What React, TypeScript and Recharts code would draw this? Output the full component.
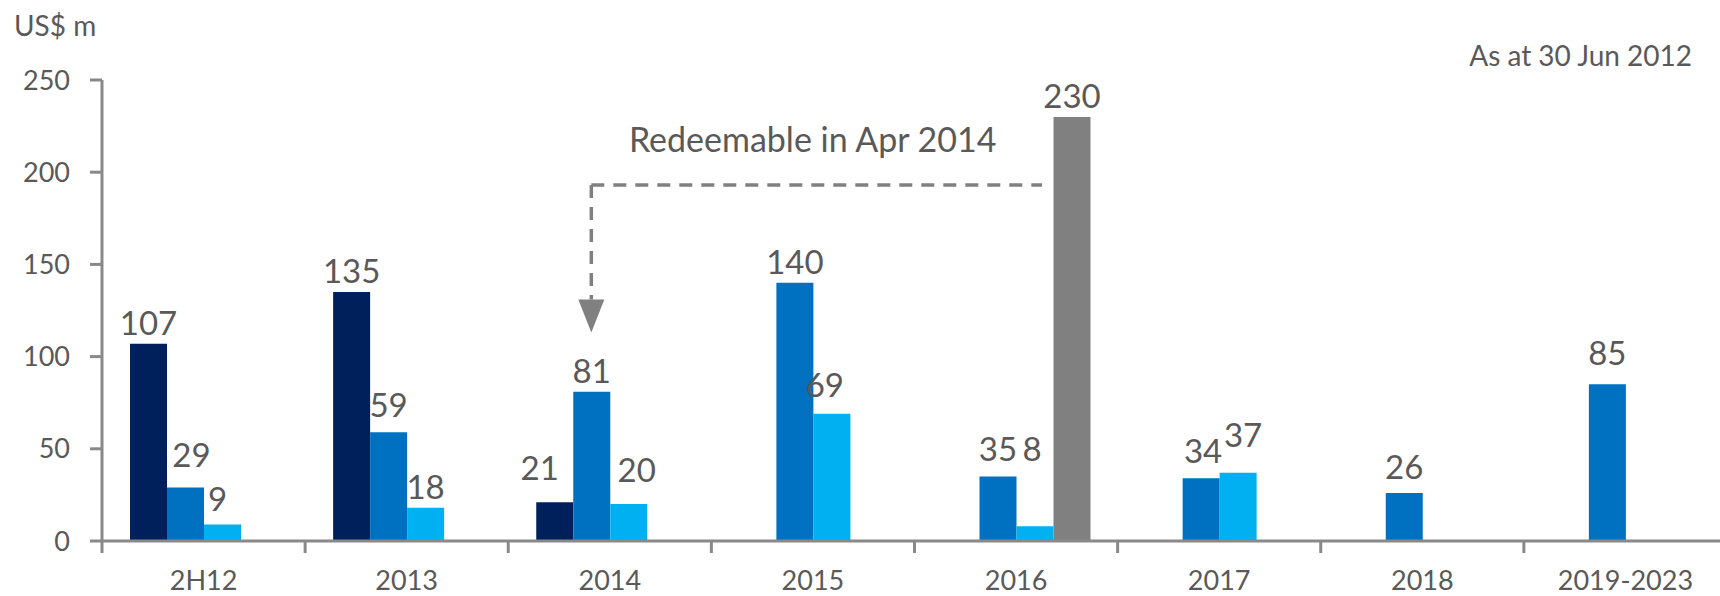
import React from 'react';
import {
    BarChart,
    Bar,
    XAxis,
    YAxis,
    LabelList,
    ReferenceLine,
    ReferenceDot,
} from 'recharts';

// Maturity profile, US$ m
const categories = ['2H12', '2013', '2014', '2015', '2016', '2017', '2018', '2019-2023'];
const navySeries = [107, 135, 21, null, null, null, null, null];
const blueSeries = [29, 59, 81, 140, 35, 34, 26, 85];
const lightSeries = [9, 18, 20, 69, 8, 37, null, null];
const greySeries = [null, null, null, null, 230, null, null, null];
const yTicks = [0, 50, 100, 150, 200, 250];

const data = categories.map((name, i) => ({
    name,
    navy: navySeries[i],
    blue: blueSeries[i],
    light: lightSeries[i],
    grey: greySeries[i],
}));

const TEXT = '#595959';
const AXIS = '#898989';
const ANNOT = '#808080';
const FONT = 'Lato, "Open Sans", sans-serif';
const BAR = 37;

// hand placed label nudges, like the manually moved labels in the original
const labelTweaks: Record<string, { dx?: number; gap?: number }> = {
    'navy:2': { dx: -15, gap: 22 },
    'blue:0': { dx: 6, gap: 21 },
    'blue:1': { gap: 15 },
    'blue:4': { gap: 15 },
    'blue:5': { dx: 2, gap: 15 },
    'blue:6': { gap: 14 },
    'blue:7': { gap: 19 },
    'light:0': { dx: -5, gap: 13 },
    'light:2': { dx: 8, gap: 22 },
    'light:3': { dx: -7, gap: 17 },
    'light:4': { dx: -3, gap: 65 },
    'light:5': { dx: 5, gap: 26 },
    'grey:4': { dx: -3 },
};

const makeLabel = (key: string) => (props: any) => {
    const { x, y, width, value, index } = props;
    if (value === null || value === undefined || value === '') return null;
    const tweak = labelTweaks[`${key}:${index}`] || {};
    const dx = tweak.dx ?? 0;
    const gap = tweak.gap ?? 9;
    return (
        <text
            x={Number(x) + Number(width) / 2 + dx}
            y={Number(y) - gap}
            textAnchor="middle"
            fill={TEXT}
            fontSize={33}
            fontFamily={FONT}
        >
            {value}
        </text>
    );
};

function CategoryTick(props: any) {
    const { x, y, payload } = props;
    const half = payload?.offset ?? 101.5;
    return (
        <g>
            <line x1={x - half} x2={x - half} y1={y - 12} y2={y} stroke={AXIS} strokeWidth={3} />
            <text x={x} y={y + 37} textAnchor="middle" fill={TEXT} fontSize={27} fontFamily={FONT}>
                {payload.value}
            </text>
        </g>
    );
}

// horizontal leg: from above the 2014 blue bar to just short of the 2016 grey bar
const HorizontalLeg = (props: any) => {
    const { x1, y1, x2 } = props;
    const start = x1 - BAR / 2;
    const end = x2 + BAR - 11;
    return (
        <g>
            <line
                x1={start}
                x2={end}
                y1={y1}
                y2={y1}
                stroke={ANNOT}
                strokeWidth={3.5}
                strokeDasharray="13 9"
            />
            <text
                x={(start + end) / 2 - 4}
                y={y1 - 33}
                textAnchor="middle"
                fill={TEXT}
                fontSize={34}
                fontFamily={FONT}
            >
                Redeemable in Apr 2014
            </text>
        </g>
    );
};

const VerticalLeg = (props: any) => {
    const { x1, y1, y2 } = props;
    const x = x1 - BAR / 2;
    return (
        <line
            x1={x}
            x2={x}
            y1={y1}
            y2={y2}
            stroke={ANNOT}
            strokeWidth={3.5}
            strokeDasharray="13 9"
        />
    );
};

const ArrowHead = (props: any) => {
    const { cx, cy } = props;
    const x = cx - BAR / 2;
    return <path d={`M${x - 13},${cy} L${x + 13},${cy} L${x},${cy + 33} Z`} fill={ANNOT} />;
};

export default function App() {
    return (
        <div
            style={{
                position: 'absolute',
                left: 0,
                top: 0,
                width: 1720,
                height: 596,
                overflow: 'hidden',
                background: '#fff',
            }}
        >
            <BarChart
                width={1730}
                height={596}
                data={data}
                margin={{ top: 80, right: 3, bottom: 0, left: 0 }}
                barGap={0}
                barSize={BAR}
                style={{ fontFamily: FONT }}
            >
                <text x={14} y={36} fill={TEXT} fontSize={28} fontFamily={FONT}>
                    US$ m
                </text>
                <text x={1692} y={66} textAnchor="end" fill={TEXT} fontSize={28} fontFamily={FONT}>
                    As at 30 Jun 2012
                </text>
                <XAxis
                    dataKey="name"
                    height={55}
                    tickSize={12}
                    tickMargin={0}
                    tickLine={false}
                    axisLine={{ stroke: AXIS, strokeWidth: 3 }}
                    tick={<CategoryTick />}
                    interval={0}
                />
                <YAxis
                    width={102}
                    domain={[0, 250]}
                    ticks={yTicks}
                    tickSize={12}
                    tickMargin={20}
                    axisLine={{ stroke: AXIS, strokeWidth: 3 }}
                    tickLine={{ stroke: AXIS, strokeWidth: 3 }}
                    tick={{ fill: TEXT, fontSize: 27, fontFamily: FONT }}
                />
                <Bar dataKey="navy" fill="#00205B" isAnimationActive={false}>
                    <LabelList dataKey="navy" content={makeLabel('navy')} />
                </Bar>
                <Bar dataKey="blue" fill="#0070C0" isAnimationActive={false}>
                    <LabelList dataKey="blue" content={makeLabel('blue')} />
                </Bar>
                <Bar dataKey="light" fill="#00B0F0" isAnimationActive={false}>
                    <LabelList dataKey="light" content={makeLabel('light')} />
                </Bar>
                <Bar dataKey="grey" fill="#808080" isAnimationActive={false}>
                    <LabelList dataKey="grey" content={makeLabel('grey')} />
                </Bar>
                <ReferenceLine
                    segment={[
                        { x: '2014', y: 193 },
                        { x: '2016', y: 193 },
                    ]}
                    shape={<HorizontalLeg />}
                />
                <ReferenceLine
                    segment={[
                        { x: '2014', y: 193 },
                        { x: '2014', y: 131 },
                    ]}
                    shape={<VerticalLeg />}
                />
                <ReferenceDot x="2014" y={131} r={13} shape={<ArrowHead />} />
            </BarChart>
        </div>
    );
}
